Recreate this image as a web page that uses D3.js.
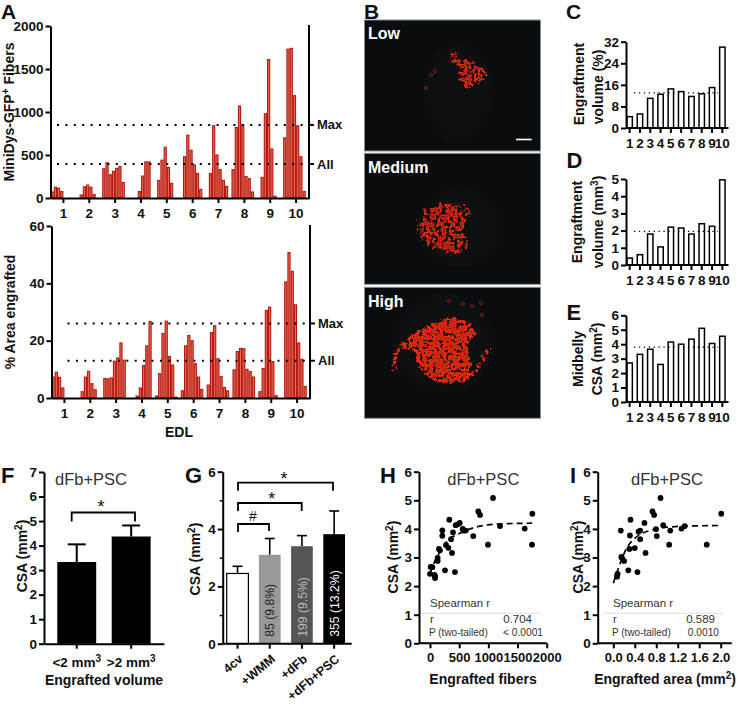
<!DOCTYPE html>
<html><head><meta charset="utf-8">
<script src="https://cdn.jsdelivr.net/npm/d3@7/dist/d3.min.js"></script>
<style>
html,body{margin:0;padding:0;background:#fff}
svg{display:block}
text{font-family:"Liberation Sans",Arial,sans-serif;fill:#111}
.b{font-weight:bold}
</style></head><body>
<svg id="c" width="738" height="704"></svg>
<script>
// ---------- data ----------
const edlGroups = ["1","2","3","4","5","6","7","8","9","10"];
const fibers = [
 [70,125,115,75,0,0,0,0],
 [0,35,130,150,125,40,0,0],
 [340,410,270,310,345,365,180,0],
 [0,0,0,75,255,420,420,0],
 [0,205,440,590,355,170,0,0],
 [0,480,730,555,385,285,100,0],
 [0,285,840,500,330,205,135,0],
 [330,820,1070,850,250,225,70,0],
 [0,240,980,1610,570,20,0,0],
 [700,1730,1740,1190,840,480,75,0]];
const fibersRefs = [{label:"Max",v:850},{label:"All",v:395}];
const areaPct = [
 [7.3,9,7.2,3.5,0,0,0,0],
 [0,2.2,7.3,9.3,5,2.9,0,0],
 [6.8,6.7,7,12.8,14,19.2,13.2,0],
 [0,0,0.7,3.5,11.3,18.2,26.7,0],
 [0.7,8.5,22.5,26.8,14.5,11.5,0.3,0],
 [2.5,18.2,21.8,20,12,7.3,3,0],
 [4.5,22.8,25.2,13.7,7.5,3.7,2.5,0],
 [9.8,16.2,17.3,17.2,10,9.2,7.3,0],
 [2.2,10.3,30.5,31.7,12.7,0.8,0,0],
 [40.5,50.7,44.2,32.5,19.2,13.5,4,0]];
const areaRefs = [{label:"Max",v:26},{label:"All",v:13}];
const engPct = [4.2,5.2,11,12.5,14.5,13.5,11.7,12.7,15,30];
const engMm3 = [0.4,0.6,1.8,1.05,2.2,2.15,1.8,2.4,2.25,4.95];
const midCSA = [2.7,3.3,3.65,2.6,4.15,4,4.35,5.1,4.05,4.55];
const fCats = ["&lt;2 mm","&gt;2 mm"];
const fVals = [3.33,4.37];
const fErr = [4.05,4.82];
const gCats = ["4cv","+WMM","+dFb","+dFb+PSC"];
const gVals = [2.45,3.1,3.4,3.82];
const gErr = [2.7,3.67,3.77,4.63];
const gNotes = ["","85 (9.8%)","199 (9.5%)","355 (13.2%)"];
const gFills = ["#fff","#999","#555","#000"];
const gNoteFills = ["","#222","#bbb","#fff"];
const hX = [1080,828,857,1754,331,509,474,440,1200,1623,560,612,577,211,394,211,742,360,994,1748,274,314,377,154,171,131,131,12,40,257,428,0,75,86,86];
const hY = [5.08,4.61,4.49,4.53,4.32,4.21,4.16,4.13,4.10,4.01,4.00,3.94,3.94,3.95,3.88,3.76,3.75,3.64,3.45,3.45,3.44,3.34,3.16,3.30,3.25,2.99,2.88,2.67,2.66,2.55,2.49,2.43,2.39,2.28,2.35];
const hFitX = [0,100,245,300,457,714,1028,1300,1750];
const hFitY = [2.45,2.95,3.40,3.6,3.79,4.02,4.15,4.18,4.2];
const iX = [0.88,0.73,0.76,2.01,0.32,0.58,0.93,1.33,1.27,1.06,0.795,0.14,0.50,0.47,0.31,0.81,0.50,1.04,1.74,0.40,0.30,0.60,0.16,0.20,0.28,0.45,0.075,0.07,0.08,0.15];
const iY = [5.08,4.61,4.49,4.53,4.32,4.21,4.13,4.10,4.01,3.94,3.99,3.94,3.94,3.90,3.77,3.75,3.64,3.45,3.45,3.33,3.30,3.16,2.99,2.88,2.55,2.49,2.40,2.33,2.43,3.02];
const iFitX = [0,0.125,0.25,0.40,0.68,1.15,1.99];
const iFitY = [2.10,2.78,3.33,3.67,3.94,4.08,4.12];

// micrograph sketches (illustration, not data)
const photos = [
 {y:20,label:"Low",muscle:[458,93,35,49],blob:[[456,49],[463,57],[476,62],[490,76],[480,82],[467,90],[459,80],[456,66],[449,60]],arcs:[],rings:[[426,88],[431,75],[435,71]],filter:"spA"},
 {y:153.3,label:"Medium",muscle:[460,227,43,40],blob:[[416,228],[426,207],[450,201],[474,210],[466,226],[468,252],[450,255],[432,250],[419,240]],arcs:[],rings:[],filter:"spB"},
 {y:287.3,label:"High",muscle:[443,343,50,50],blob:[[415,332],[428,325],[448,317],[468,322],[477,332],[468,345],[472,367],[457,382],[435,382],[418,367],[413,352],[400,348]],arcs:[[[395,372],[395,358],[400,347],[415,338]],[[489,346],[482,360],[472,375],[457,382]]],rings:[[449,301],[463,304],[472,306],[481,303],[482,315]],filter:"spC"}
];

// ---------- helpers ----------
const svg = d3.select("#c");
const defs = svg.append("defs");
// speckle texture that thins out towards the edge of a shape, with ring-like cell outlines
[["spA",0.28,0.40,3,0.35,2,2],["spB",0.26,0.42,4,0.5,3,2],["spC",0.3,0.36,5,0.85,1.6,2]].forEach(([id,f,thr,s,core,blur,oct])=>{
  const fl = defs.append("filter").attr("id",id).attr("x","-25%").attr("y","-25%").attr("width","150%").attr("height","150%")
    .attr("color-interpolation-filters","sRGB");
  fl.append("feTurbulence").attr("type","fractalNoise").attr("baseFrequency",f).attr("numOctaves",oct).attr("seed",s).attr("result","n");
  fl.append("feColorMatrix").attr("in","n").attr("type","matrix").attr("values","0 0 0 0 0 0 0 0 0 0 0 0 0 0 0 1 0 0 0 0").attr("result","na");
  fl.append("feGaussianBlur").attr("in","SourceAlpha").attr("stdDeviation",blur).attr("result","sa");
  fl.append("feComposite").attr("in","na").attr("in2","sa").attr("operator","arithmetic")
    .attr("k1",0).attr("k2",1).attr("k3",0.5).attr("k4",-(thr)).attr("result","sum");
  const ct = fl.append("feComponentTransfer").attr("in","sum").attr("result","m");
  ct.append("feFuncA").attr("type","linear").attr("slope",8).attr("intercept",-4);
  fl.append("feMorphology").attr("in","m").attr("operator","erode").attr("radius",0.7).attr("result","er");
  fl.append("feFlood").attr("flood-color","#ea2a0c").attr("result","red");
  fl.append("feComposite").attr("in","red").attr("in2","m").attr("operator","in").attr("result","fillAll");
  fl.append("feComponentTransfer").attr("in","fillAll").attr("result","dim").append("feFuncA").attr("type","linear").attr("slope",core);
  fl.append("feComposite").attr("in","fillAll").attr("in2","er").attr("operator","out").attr("result","ring");
  const mg = fl.append("feMerge");
  mg.append("feMergeNode").attr("in","dim");
  mg.append("feMergeNode").attr("in","ring");
});
function letter(t,x,y,s=22){ svg.append("text").attr("class","b").attr("x",x).attr("y",y).attr("font-size",s).text(t); }
function txt(t,x,y,o={}){
  const e = svg.append("text").attr("x",x).attr("y",y).attr("font-size",o.size||14)
    .attr("text-anchor",o.anchor||"middle").attr("class",o.reg?"":"b");
  if(o.fill) e.style("fill",o.fill);
  if(o.rot!=null) e.attr("transform",`rotate(${o.rot} ${x} ${y})`);
  e.html(t); return e;
}
const sup = s=>`<tspan dy="-5" font-size="10">${s}</tspan>`;
const down = s=>`<tspan dy="5">${s}</tspan>`;
function styleAxis(g,w,size){
  g.selectAll("path,line").attr("stroke","#000").attr("stroke-width",w);
  g.selectAll("text").attr("class","b").attr("font-size",size).style("fill","#111");
}
function yAxis(x,scale,ticks,size=13.5,w=2,tl=5){
  const a = d3.axisLeft(scale).tickValues(ticks).tickSize(tl).tickPadding(2).tickSizeOuter(0).tickFormat(d3.format("d"));
  const g = svg.append("g").attr("transform",`translate(${x},0)`).call(a);
  styleAxis(g,w,size); return g;
}
function xAxisBand(y,scale,size=14,w=2,pad=3,tl=5){
  const g = svg.append("g").attr("transform",`translate(0,${y})`).call(d3.axisBottom(scale).tickSize(tl).tickPadding(pad).tickSizeOuter(0));
  styleAxis(g,w,size); return g;
}
function dotted(x1,x2,y,w=2,dash="2 6.4"){
  svg.append("line").attr("x1",x1).attr("x2",x2).attr("y1",y).attr("y2",y)
    .attr("stroke","#000").attr("stroke-width",w).attr("stroke-dasharray",dash);
}
function bracket(x1,x2,y,d1,d2){
  svg.append("path").attr("fill","none").attr("stroke","#000").attr("stroke-width",1.8)
    .attr("d",d3.line()([[x1,y+d1],[x1,y],[x2,y],[x2,y+d2]]));
}

// ---------- panel A ----------
function panelA(x0,x1,y0,y1,dom,ticks,vals,refs,dotStart){
  const y = d3.scaleLinear().domain(dom).range([y0,y1]);
  const outer = d3.scaleBand().domain(edlGroups).range([x0,x1]);
  const inner = d3.scaleBand().domain(d3.range(8)).range([0,outer.bandwidth()]);
  const g = svg.append("g");
  vals.forEach((row,i)=>{
    g.selectAll(null).data(row.map((v,j)=>({v,j})).filter(d=>d.v>0)).join("rect")
      .attr("x",d=>outer(edlGroups[i])+inner(d.j)+0.55)
      .attr("width",inner.bandwidth()-1.1)
      .attr("y",d=>y(d.v)).attr("height",d=>y0-y(d.v))
      .attr("fill","#ee6a55").attr("stroke","#b2190f").attr("stroke-width",1.1);
  });
  refs.forEach(r=>{
    dotted(dotStart,x1+1,y(r.v));
    svg.append("line").attr("x1",x1-1).attr("x2",x1+5).attr("y1",y(r.v)).attr("y2",y(r.v)).attr("stroke","#000").attr("stroke-width",2);
    txt(r.label,x1+8,y(r.v)+4.5,{anchor:"start",size:13});
  });
  yAxis(x0,y,ticks);
  xAxisBand(y0,outer,13.5,2,5);
  svg.append("line").attr("x1",x1).attr("x2",x1).attr("y1",y1-1).attr("y2",y0+1).attr("stroke","#000").attr("stroke-width",2);
}
panelA(50.5,309,198,26,[0,2000],[0,500,1000,1500,2000],fibers,fibersRefs,57);
panelA(51.5,310,398,226,[0,60],[0,20,40,60],areaPct,areaRefs,67.5);
letter("A",1,19,21);
txt("MiniDys-GFP"+sup("+")+down(" Fibers"),14,112,{rot:-90,size:14});
txt("% Area engrafted",15,312,{rot:-90,size:14});
txt("EDL",179,437,{size:14});

// ---------- panel B ----------
letter("B",364,19,21);
photos.forEach(p=>{
  svg.append("rect").attr("x",364.5).attr("y",p.y).attr("width",176).attr("height",131)
    .attr("fill","#0a0d0f").attr("stroke","#8d8d8d").attr("stroke-width",1);
  const [mx,my,mrx,mry]=p.muscle;
  svg.append("ellipse").attr("cx",mx).attr("cy",my).attr("rx",mrx).attr("ry",mry).attr("fill","#0d1011");
  const gp = svg.append("g").attr("filter",`url(#${p.filter})`);
  gp.append("path").attr("d",d3.line().curve(d3.curveCatmullRomClosed)(p.blob)).attr("fill","#000");
  p.arcs.forEach(a=>gp.append("path").attr("d",d3.line().curve(d3.curveCatmullRom)(a)).attr("fill","none").attr("stroke","#000").attr("stroke-width",5));
  p.rings.forEach(r=>svg.append("circle").attr("cx",r[0]).attr("cy",r[1]).attr("r",1.6).attr("fill","none").attr("stroke","#7a2016").attr("stroke-width",1));
  txt(p.label,368,p.y+19.3,{anchor:"start",size:16,fill:"#fff"});
});
svg.append("line").attr("x1",516).attr("x2",531.7).attr("y1",139.5).attr("y2",139.5).attr("stroke","#fff").attr("stroke-width",1.6);

// ---------- panels C D E ----------
function small(x0,x1,y0,y1,dom,ticks,vals,ref){
  const y = d3.scaleLinear().domain(dom).range([y0,y1]);
  const xs = d3.scaleBand().domain(edlGroups).range([624.5,727.5]);
  svg.selectAll(null).data(vals).join("rect")
    .attr("x",(d,i)=>xs(edlGroups[i])+xs.bandwidth()/2-2.7).attr("width",5.4)
    .attr("y",d=>y(d)).attr("height",d=>y0-y(d))
    .attr("fill","#fff").attr("stroke","#000").attr("stroke-width",1.5);
  dotted(634,718,y(ref),1.3,"1.3 3.6");
  yAxis(x0,y,ticks);
  const g = xAxisBand(y0,xs,13.5,2,5,5);
  g.select(".domain").attr("d",`M${x0},0H${x1}`);
}
small(626,728.5,128,41.7,[0,32],[0,8,16,24,32],engPct,13);
small(626,728.5,265,179,[0,5],[0,1,2,3,4,5],engMm3,1.95);
small(626,728.5,402,315.3,[0,6],[0,1,2,3,4,5,6],midCSA,3.8);
letter("C",566,19,21);letter("D",566.5,168);letter("E",566.5,320);
txt("Engraftment",584,84,{rot:-90,size:14});
txt("volume (%)",603,87,{rot:-90,size:14});
txt("Engraftment",581.7,222,{rot:-90,size:14});
txt("volume (mm"+sup("3")+down(")"),603,222,{rot:-90,size:14});
txt("Midbelly",582.7,359,{rot:-90,size:14});
txt("CSA (mm"+sup("2")+down(")"),601.7,359,{rot:-90,size:14});

// ---------- panel F ----------
{
  const y = d3.scaleLinear().domain([0,7]).range([643.7,472]);
  const x = d3.scaleBand().domain(fCats).range([44,163.9]).paddingInner(0.285).paddingOuter(0.244);
  fVals.forEach((v,i)=>{
    const c=x(fCats[i])+x.bandwidth()/2;
    svg.append("line").attr("x1",c).attr("x2",c).attr("y1",y(fErr[i])).attr("y2",y(v)).attr("stroke","#000").attr("stroke-width",2);
    svg.append("line").attr("x1",c-9).attr("x2",c+9).attr("y1",y(fErr[i])).attr("y2",y(fErr[i])).attr("stroke","#000").attr("stroke-width",2);
  });
  svg.selectAll(null).data(fVals).join("rect").attr("x",(d,i)=>x(fCats[i])).attr("width",x.bandwidth())
    .attr("y",d=>y(d)).attr("height",d=>y(0)-y(d)).attr("fill","#000");
  yAxis(44,y,d3.range(0,8));
  const g = xAxisBand(643.7,x,14,2,3,5);
  g.selectAll("text").remove();
  fCats.forEach(c=>txt(c+sup("3"),x(c)+x.bandwidth()/2,667,{size:13.5}));
  bracket(71.7,135,512.5,9,9);
  txt("*",101,513,{size:18,reg:true});
  txt("dFb+PSC",55,485,{anchor:"start",size:16.5,reg:true,fill:"#333"});
  txt("Engrafted volume",104,685,{size:14});
  txt("CSA (mm"+sup("2")+down(")"),27,556,{rot:-90,size:14});
  letter("F",1,483);
}

// ---------- panel G ----------
{
  const y = d3.scaleLinear().domain([0,6]).range([643.7,471.7]);
  const x = d3.scaleBand().domain(gCats).range([222.7,349]).paddingInner(0.326).paddingOuter(0.124);
  gVals.forEach((v,i)=>{
    const c=x(gCats[i])+x.bandwidth()/2;
    svg.append("line").attr("x1",c).attr("x2",c).attr("y1",y(gErr[i])).attr("y2",y(v)).attr("stroke","#000").attr("stroke-width",1.6);
    svg.append("line").attr("x1",c-5).attr("x2",c+5).attr("y1",y(gErr[i])).attr("y2",y(gErr[i])).attr("stroke","#000").attr("stroke-width",1.6);
  });
  svg.selectAll(null).data(gVals).join("rect").attr("x",(d,i)=>x(gCats[i])).attr("width",x.bandwidth())
    .attr("y",d=>y(d)).attr("height",d=>y(0)-y(d)).attr("fill",(d,i)=>gFills[i])
    .attr("stroke",(d,i)=>i==0?"#000":"none").attr("stroke-width",1.2);
  gNotes.forEach((n,i)=>{ if(n) txt(n,x(gCats[i])+x.bandwidth()/2+4.6,636.7,{rot:-90,anchor:"start",size:12.2,reg:true,fill:gNoteFills[i]}); });
  yAxis(222.7,y,[0,2,4,6]);
  svg.append("g").attr("transform","translate(222.7,0)").call(d3.axisLeft(y).tickValues([1,3,5]).tickSize(3).tickFormat("").tickSizeOuter(0))
    .call(g=>{g.select(".domain").remove();g.selectAll("line").attr("stroke","#000").attr("stroke-width",1.5);});
  const g = xAxisBand(643.7,x,12.5,2,3,5);
  g.select(".domain").attr("d","M222.7,0H351.7");
  g.selectAll("text").attr("text-anchor","end").attr("dy",0).attr("transform","translate(1,10.5) rotate(-40)");
  bracket(238,269,524,8,7);
  bracket(238,301.7,503,8,8);
  bracket(238,333,482.7,8,8);
  txt("#",253,521,{size:14,reg:true});
  txt("*",271.7,505,{size:18,reg:true});
  txt("*",284,485,{size:18,reg:true});
  txt("CSA (mm"+sup("2")+down(")"),200,559,{rot:-90,size:14});
  letter("G",185,483);
}

// ---------- panels H I ----------
function scatter(ax,x,xTicks,xFmt,yLabelX,xs,ys,fx,fy,titleX,xlab,xlabX,stats,tx){
  const y = d3.scaleLinear().domain([0,6]).range([643.3,471.7]);
  svg.selectAll(null).data(xs).join("circle").attr("cx",d=>x(d)).attr("cy",(d,i)=>y(ys[i])).attr("r",2.9).attr("fill","#000");
  svg.append("path").attr("fill","none").attr("stroke","#000").attr("stroke-width",1.7).attr("stroke-dasharray","6 4")
    .attr("d",d3.line().curve(d3.curveMonotoneX).x(d=>x(d[0])).y(d=>y(d[1]))(fx.map((v,i)=>[v,fy[i]])));
  svg.append("line").attr("x1",tx.start).attr("x2",tx.end).attr("y1",613.3).attr("y2",613.3).attr("stroke","#ddd").attr("stroke-width",1);
  txt("Spearman r",tx.l,607,{anchor:"start",size:11.5,reg:true,fill:"#333"});
  txt("r",tx.l,622.7,{anchor:"start",size:11.5,reg:true,fill:"#333"});
  txt(stats[0],tx.v,622.7,{anchor:"end",size:11.5,reg:true,fill:"#333"});
  txt("P (two-tailed)",tx.l-1,636,{anchor:"start",size:10,reg:true,fill:"#333"});
  txt(stats[1],tx.p,636,{anchor:"end",size:10.2,reg:true,fill:"#333"});
  yAxis(ax,y,[0,1,2,3,4,5,6]);
  const a = d3.axisBottom(x).tickValues(xTicks).tickSize(5).tickPadding(4).tickSizeOuter(0).tickFormat(xFmt);
  const g = svg.append("g").attr("transform","translate(0,643.3)").call(a);
  styleAxis(g,2,13);
  g.select(".domain").attr("d",`M${ax},0H${x.range()[1]+tx.over}`);
  txt("dFb+PSC",titleX,485,{size:16.5,reg:true,fill:"#333"});
  txt(xlab,xlabX,684,{size:14});
  txt("CSA (mm"+sup("2")+down(")"),yLabelX,557,{rot:-90,size:14});
}
scatter(419,d3.scaleLinear().domain([0,2000]).range([430,546.7]),[0,500,1000,1500,2000],d3.format("d"),398,hX,hY,hFitX,hFitY,483.3,"Engrafted fibers",483,["0.704","< 0.0001"],{l:430,v:532,p:543,start:420,end:541,over:0});
scatter(597.7,d3.scaleLinear().domain([0,2]).range([613.3,720.7]),[0,0.4,0.8,1.2,1.6,2],d3.format(".1f"),583,iX,iY,iFitX,iFitY,667,"Engrafted area (mm"+sup("2")+down(")"),665,["0.589","0.0010"],{l:613,v:715,p:719,start:603,end:723,over:11});
letter("H",380,483);
letter("I",570,483);
</script>
</body></html>
